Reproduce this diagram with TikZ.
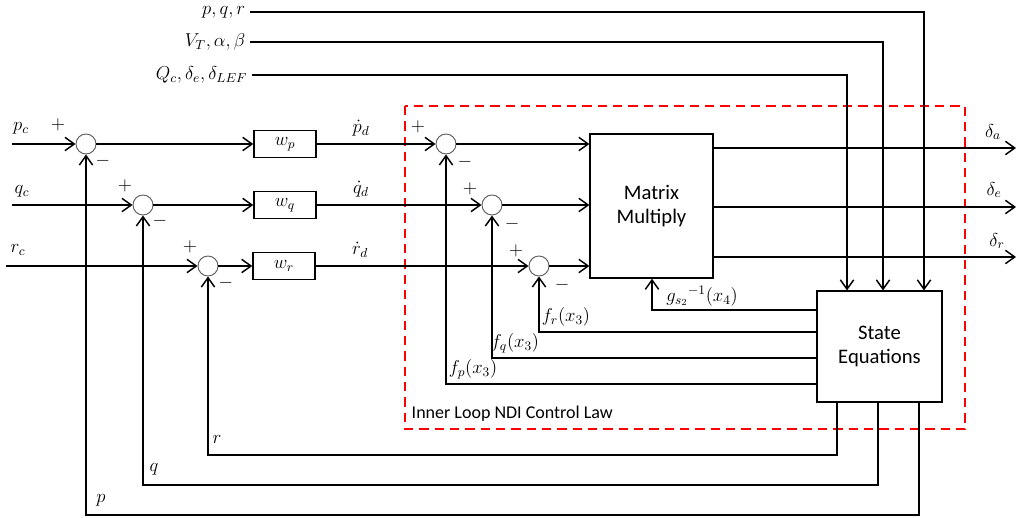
\RequirePackage{fix-cm}
\documentclass[tikz,border=0pt]{standalone}
\usepackage[no-math]{fontspec}
\setmainfont{Carlito}
\usetikzlibrary{arrows.meta,positioning}
\tikzset{
  sig/.style={->, line width=1.1pt},
  sumc/.style={circle, draw=gray!75!black, line width=0.7pt, minimum size=15pt, inner sep=0pt, fill=white},
  blk/.style={draw, line width=1.1pt, fill=white, align=center, inner sep=0pt},
  sgn/.style={font=\fontsize{14}{14}\selectfont},
  big/.style={font=\fontsize{15.5}{18}\selectfont}
}
\begin{document}
\begin{tikzpicture}[x=0.75pt, y=-0.75pt, >={Straight Barb[length=7pt,width=10pt]},
    font=\fontsize{14}{16}\selectfont]
    \useasboundingbox (0,0) rectangle (1019,517);

    % inner loop frame
    \draw[red, line width=1.8pt, dash pattern=on 7pt off 4.5pt] (405,106) rectangle (965,429);
    \node[anchor=west, font=\fontsize{13.5}{15}\selectfont] (ndi) at (407,414) {Inner Loop NDI Control Law};

    % summing junctions (outer)
    \node[sumc] (s1) at (86,144) {};
    \node[sumc] (s2) at (143,205) {};
    \node[sumc] (s3) at (208,266) {};
    % summing junctions (inner)
    \node[sumc] (s4) at (446,144) {};
    \node[sumc] (s5) at (492,205) {};
    \node[sumc] (s6) at (539,266) {};

    % gain blocks
    \node[blk, minimum width=46.5pt, minimum height=20pt] (wp) at (285,144) {$w_p$};
    \node[blk, minimum width=46.5pt, minimum height=20pt] (wq) at (285,205) {$w_q$};
    \node[blk, minimum width=46.5pt, minimum height=20pt] (wr) at (284,266) {$w_r$};

    % main blocks
    \node[blk, big, minimum width=92pt, minimum height=108pt] (mm) at (651.5,206) {Matrix\\Multiply};
    \node[blk, big, minimum width=94pt, minimum height=83pt] (st) at (879.5,346.5) {State\\Equations};

    % signs
    \node[sgn] (s1p) at (58,125) {$+$};  \node[sgn] (s1m) at (103,161) {$-$};
    \node[sgn] (s2p) at (125,186) {$+$}; \node[sgn] (s2m) at (160,221) {$-$};
    \node[sgn] (s3p) at (190,247) {$+$}; \node[sgn] (s3m) at (226,283) {$-$};
    \node[sgn] (s4p) at (418,127) {$+$}; \node[sgn] (s4m) at (465,162) {$-$};
    \node[sgn] (s5p) at (470,189) {$+$}; \node[sgn] (s5m) at (512,224) {$-$};
    \node[sgn] (s6p) at (516,251) {$+$}; \node[sgn] (s6m) at (562,285) {$-$};

    % commands in
    \coordinate (pc) at (12,144);
    \coordinate (qc) at (12,205);
    \coordinate (rc) at (6,266);
    \node (lpc) at (21,128) {$p_c$};
    \node (lqc) at (22,191) {$q_c$};
    \node (lrc) at (18,250) {$r_c$};
    \draw[sig] (pc) -- (s1);
    \draw[sig] (qc) -- (s2);
    \draw[sig] (rc) -- (s3);

    % forward path
    \draw[sig] (s1) -- (wp);
    \draw[sig] (s2) -- (wq);
    \draw[sig] (s3) -- (wr);
    \draw[sig] (wp) -- (s4);
    \draw[sig] (wq) -- (s5);
    \draw[sig] (wr) -- (s6);
    \node (lpd) at (361,128) {$\dot p_d$};
    \node (lqd) at (361,189) {$\dot q_d$};
    \node (lrd) at (360,250) {$\dot r_d$};
    \draw[sig] (s4.east) -- (s4.east -| mm.west);
    \draw[sig] (s5.east) -- (s5.east -| mm.west);
    \draw[sig] (s6.east) -- (s6.east -| mm.west);

    % surface commands out
    \coordinate (da) at (1016,148);
    \coordinate (de) at (1016,207);
    \coordinate (dr) at (1016,257);
    \draw[sig] (mm.east |- da) -- (da);
    \draw[sig] (mm.east |- de) -- (de);
    \draw[sig] (mm.east |- dr) -- (dr);
    \node (lda) at (993,132) {$\delta_a$};
    \node (lde) at (994,190) {$\delta_e$};
    \node (ldr) at (997,241) {$\delta_r$};

    % measured states into the state equations
    \node[anchor=east] (lpqr) at (250,12) {$p,q,r$};
    \node[anchor=east] (lvab) at (250,42) {$V_T,\alpha,\beta$};
    \node[anchor=east] (lqde) at (252,75) {$Q_c,\delta_e,\delta_{LEF}$};
    \coordinate (x1) at (924,0);
    \coordinate (x2) at (883,0);
    \coordinate (x3) at (847,0);
    \draw[sig] (lpqr.east) -| (st.north -| x1);
    \draw[sig] (lvab.east) -| (st.north -| x2);
    \draw[sig] (lqde.east) -| (st.north -| x3);

    % inner feedback
    \coordinate (gb) at (652,310);
    \coordinate (fr) at (0,332);
    \coordinate (fq) at (0,358);
    \coordinate (fp) at (0,384);
    \draw[sig] (st.west |- gb) -| (mm.south -| gb);
    \draw[sig] (st.west |- fr) -| (s6.south);
    \draw[sig] (st.west |- fq) -| (s5.south);
    \draw[sig] (st.west |- fp) -| (s4.south);
    \node (lg) at (702,296) {${g_{s_2}}^{-1}(x_4)$};
    \node (lfr) at (566,317) {$f_r(x_3)$};
    \node (lfq) at (515,343) {$f_q(x_3)$};
    \node (lfp) at (473,369) {$f_p(x_3)$};

    % outer feedback
    \coordinate (rb) at (837,455);
    \coordinate (qb) at (878,485);
    \coordinate (pb) at (919,515);
    \draw[sig] (st.south -| rb) -- (rb) -| (s3.south);
    \draw[sig] (st.south -| qb) -- (qb) -| (s2.south);
    \draw[sig] (st.south -| pb) -- (pb) -| (s1.south);
    \node (lr) at (217,439) {$r$};
    \node (lq) at (154,469) {$q$};
    \node (lp) at (101,500) {$p$};

\end{tikzpicture}
\end{document}
